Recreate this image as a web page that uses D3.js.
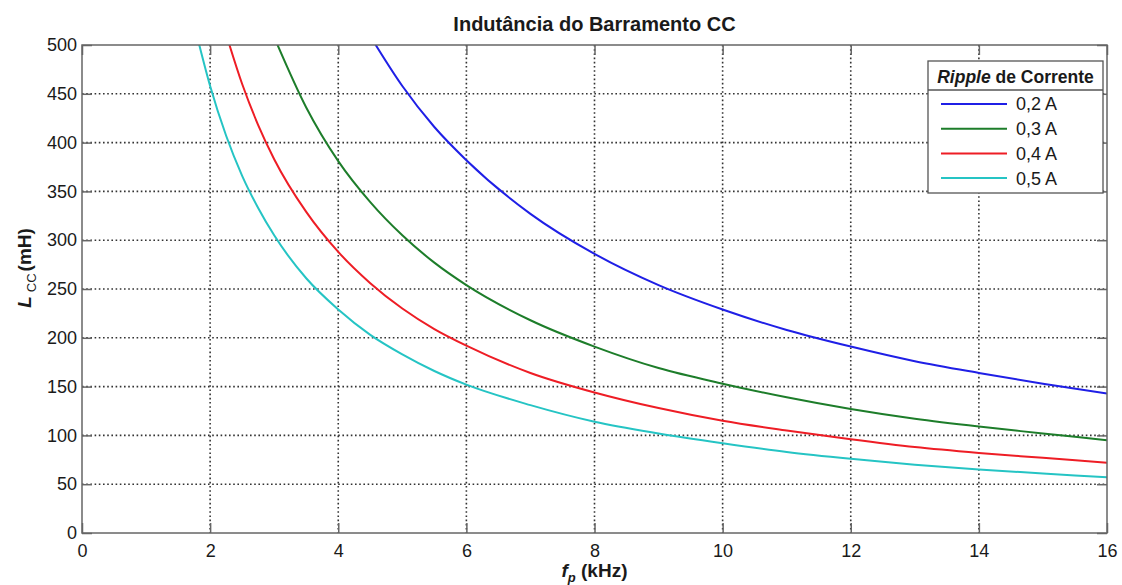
<!DOCTYPE html>
<html>
<head>
<meta charset="utf-8">
<script src="https://cdn.jsdelivr.net/npm/d3@7"></script>
<style>
  body { margin: 0; background: #fff; }
  svg { font-family: "Liberation Sans", Arial, sans-serif; }
</style>
</head>
<body>
<svg id="chart" width="1122" height="585"></svg>
<script>
// frequency grid (kHz) shared by all curves
const freqKHz = [1.8, 2, 2.25, 2.5, 2.75, 3, 3.5, 4, 4.5, 5, 5.5, 6, 7, 8, 9, 10, 11, 12, 13, 14, 15, 16];

// L_CC (mH), null where the curve is off the chart
const ripple02 = [null, null, null, null, null, null, null, null, 509, 458, 416, 382, 327, 286, 254, 229, 208, 191, 176, 164, 153, 143];
const ripple03 = [null, null, null, null, null, 508, 436, 381, 339, 305, 277, 254, 218, 191, 169, 153, 139, 127, 117, 109, 102, 95];
const ripple04 = [null, null, 511, 460, 418, 383, 329, 288, 256, 230, 209, 192, 164, 144, 128, 115, 105, 96, 88, 82, 77, 72];
const ripple05 = [508, 458, 407, 366, 333, 305, 261, 229, 203, 183, 166, 152, 131, 114, 102, 92, 83, 76, 70, 65, 61, 57];

const seriesNames = ["0,2 A", "0,3 A", "0,4 A", "0,5 A"];
const seriesColors = ["#1f1fe6", "#1d7d2a", "#ee1d25", "#25c4c4"];
const seriesValues = [ripple02, ripple03, ripple04, ripple05];

const xTicks = [0, 2, 4, 6, 8, 10, 12, 14, 16];
const yTicks = [0, 50, 100, 150, 200, 250, 300, 350, 400, 450, 500];

const plotL = 82, plotR = 1107, plotT = 45, plotB = 533;

const svg = d3.select("#chart");
const x = d3.scaleLinear().domain([0, 16]).range([plotL, plotR]);
const y = d3.scaleLinear().domain([0, 500]).range([plotB, plotT]);

// grid
const grid = svg.append("g").attr("stroke", "#333").attr("stroke-width", 1.6)
  .attr("stroke-dasharray", "1.6,2.6");
grid.selectAll(".gx").data(xTicks.slice(1, -1)).enter().append("line")
  .attr("x1", d => x(d)).attr("x2", d => x(d)).attr("y1", plotT).attr("y2", plotB);
grid.selectAll(".gy").data(yTicks.slice(1, -1)).enter().append("line")
  .attr("y1", d => y(d)).attr("y2", d => y(d)).attr("x1", plotL).attr("x2", plotR);

// curves
svg.append("clipPath").attr("id", "plot").append("rect")
  .attr("x", plotL).attr("y", plotT).attr("width", plotR - plotL).attr("height", plotB - plotT);

const line = d3.line()
  .defined(d => d[1] != null)
  .x(d => x(d[0])).y(d => y(d[1]))
  .curve(d3.curveMonotoneX);

svg.append("g").attr("clip-path", "url(#plot)")
  .selectAll("path").data(seriesValues).enter().append("path")
  .attr("fill", "none")
  .attr("stroke", (d, i) => seriesColors[i])
  .attr("stroke-width", 2)
  .attr("d", vals => line(freqKHz.map((f, i) => [f, vals[i]])));

// axes (ticks inside, on all four sides)
const tickLen = 10;
const axStyle = g => {
  g.select(".domain").remove();
  g.selectAll(".tick line").attr("stroke", "#666").attr("stroke-width", 1.5);
  g.selectAll(".tick text").attr("fill", "#1a1a1a").style("font-size", "18px");
};
svg.append("g").attr("transform", `translate(0,${plotB})`)
  .call(d3.axisBottom(x).tickValues(xTicks).tickSize(-tickLen).tickPadding(8))
  .call(axStyle).selectAll(".tick text").attr("dy", "0.9em");
svg.append("g").attr("transform", `translate(${plotL},0)`)
  .call(d3.axisLeft(y).tickValues(yTicks).tickSize(-tickLen).tickPadding(5))
  .call(axStyle);
svg.append("g").attr("transform", `translate(0,${plotT})`)
  .call(d3.axisTop(x).tickValues(xTicks).tickSize(-tickLen).tickFormat(""))
  .call(axStyle);
svg.append("g").attr("transform", `translate(${plotR},0)`)
  .call(d3.axisRight(y).tickValues(yTicks).tickSize(-tickLen).tickFormat(""))
  .call(axStyle);

svg.append("rect").attr("x", plotL).attr("y", plotT)
  .attr("width", plotR - plotL).attr("height", plotB - plotT)
  .attr("fill", "none").attr("stroke", "#666").attr("stroke-width", 1.5);

// title and labels
svg.append("text").attr("x", (plotL + plotR) / 2).attr("y", 31)
  .attr("text-anchor", "middle").attr("font-weight", "bold").attr("font-size", 20)
  .attr("fill", "#1a1a1a").text("Indutância do Barramento CC");

const xl = svg.append("text").attr("x", (plotL + plotR) / 2).attr("y", 577)
  .attr("text-anchor", "middle").attr("font-weight", "bold").attr("font-size", 19).attr("fill", "#1a1a1a");
xl.append("tspan").attr("font-style", "italic").text("f");
xl.append("tspan").attr("font-style", "italic").attr("font-size", 13).attr("dy", 5).text("p");
xl.append("tspan").attr("dy", -5).text(" (kHz)");

const yl = svg.append("text").attr("transform", "translate(31,268) rotate(-90)")
  .attr("text-anchor", "middle").attr("font-weight", "bold").attr("font-size", 19).attr("fill", "#1a1a1a");
yl.append("tspan").attr("font-style", "italic").text("L");
yl.append("tspan").attr("font-size", 13).attr("font-weight", "normal").attr("dx", 4).attr("dy", 5).text("CC");
yl.append("tspan").attr("dx", 2).attr("dy", -5).text("(mH)");

// legend
const lg = svg.append("g");
lg.append("rect").attr("x", 928).attr("y", 61).attr("width", 175).attr("height", 132)
  .attr("fill", "#fff").attr("stroke", "#555").attr("stroke-width", 1.3);
lg.append("line").attr("x1", 928).attr("x2", 1103).attr("y1", 90).attr("y2", 90)
  .attr("stroke", "#555").attr("stroke-width", 1.3);
const lt = lg.append("text").attr("x", 1015.5).attr("y", 83).attr("text-anchor", "middle")
  .attr("font-weight", "bold").attr("font-size", 17.5).attr("fill", "#1a1a1a");
lt.append("tspan").attr("font-style", "italic").text("Ripple");
lt.append("tspan").text(" de Corrente");

const items = lg.selectAll(".item").data(seriesNames).enter().append("g")
  .attr("transform", (d, i) => `translate(0,${104 + i * 24.7})`);
items.append("line").attr("x1", 941).attr("x2", 1007)
  .attr("stroke", (d, i) => seriesColors[i]).attr("stroke-width", 2);
items.append("text").attr("x", 1016).attr("dy", "0.36em").attr("font-size", 18)
  .attr("fill", "#1a1a1a").text(d => d);
</script>
</body>
</html>
